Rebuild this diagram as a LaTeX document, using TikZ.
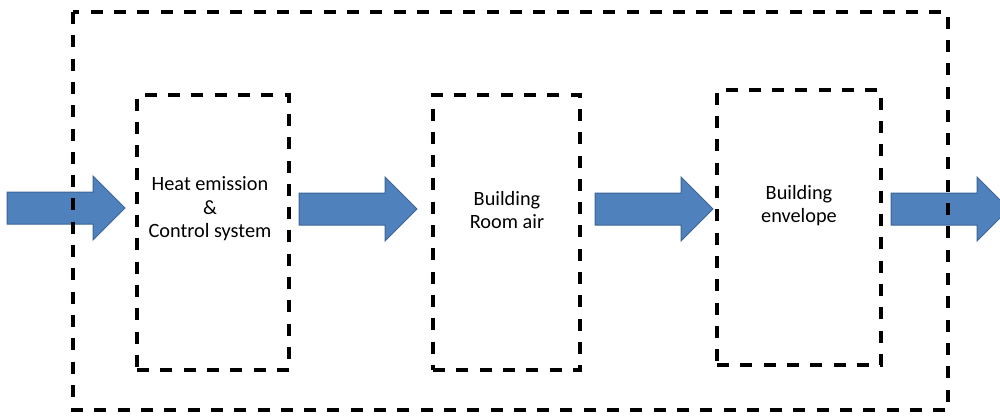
\documentclass[tikz,border=0pt]{standalone}
\usepackage{fontspec}
\setmainfont{Carlito}
\begin{document}
\begin{tikzpicture}[x=1pt,y=-1pt,
  blockarrow/.style={fill={rgb,255:red,79;green,129;blue,189},draw={rgb,255:red,60;green,100;blue,150},line width=1pt,line join=miter},
  dbox/.style={draw=black,line width=3.2pt,dash pattern=on 12pt off 11.3pt,fill=none},
  lbl/.style={font=\fontsize{20.3}{23.5}\selectfont,align=center,text=black,inner sep=0pt}]
\useasboundingbox (0,0) rectangle (1000,416);
\clip (0,0) rectangle (1000,416);
% block arrows
\foreach \xa/\yc [count=\i] in {7/208,299/209,595/209,891/209}{
  \draw[blockarrow] (\xa,\yc-16) -- (\xa+86,\yc-16) -- (\xa+86,\yc-32) -- (\xa+118,\yc) -- (\xa+86,\yc+32) -- (\xa+86,\yc+16) -- (\xa,\yc+16) -- cycle;
}
% outer and inner boxes
\draw[dbox] (73,12) rectangle (948,410);
\node[dbox,minimum width=152pt,minimum height=275pt,inner sep=0pt] (b1) at (213,232.5) {};
\node[dbox,minimum width=147pt,minimum height=275pt,inner sep=0pt] (b2) at (506.5,232.5) {};
\node[dbox,minimum width=164pt,minimum height=275pt,inner sep=0pt] (b3) at (799,227.5) {};
\node[lbl] (t1) at (210,209) {Heat emission\\\&\\Control system};
\node[lbl] (t2) at (507,210) {Building\\Room air};
\node[lbl] (t3) at (799,205.5) {Building\\envelope};
\end{tikzpicture}
\end{document}
